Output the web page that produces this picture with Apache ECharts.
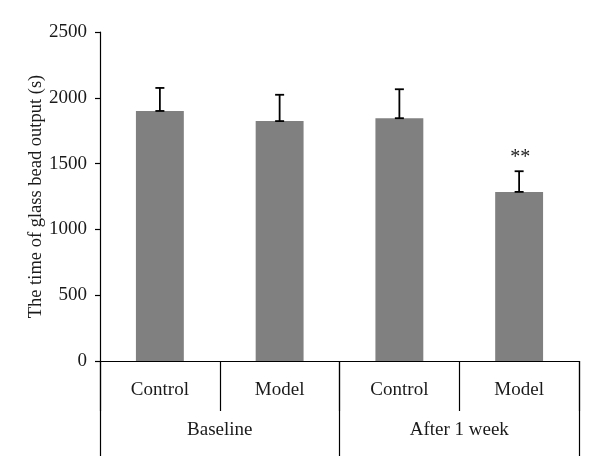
<!DOCTYPE html>
<html>
<head>
<meta charset="utf-8">
<script src="https://cdn.jsdelivr.net/npm/echarts@6/dist/echarts.min.js"></script>
<style>html,body{margin:0;padding:0;background:#fff;}#chart{width:600px;height:461px;}</style>
</head>
<body>
<div id="chart"></div>
<script>
var subCategories = ['Control', 'Model', 'Control', 'Model'];
var groups = ['Baseline', 'After 1 week'];
var means = [1900, 1823, 1845, 1285];
var errors = [175, 200, 220, 157];
var marks = ['', '', '', '**'];
var yTicks = {min: 0, max: 2500, interval: 500};
var yTitle = 'The time of glass bead output (s)';

var FONT = '"Liberation Serif", "DejaVu Serif", serif';
var errData = means.map(function (m, i) { return [i, m, m + errors[i], marks[i]]; });

var chart = echarts.init(document.getElementById('chart'));
chart.setOption({
  animation: false,
  grid: {left: 100, right: 21, top: 32, bottom: 100, containLabel: false},
  xAxis: [{
    type: 'category',
    data: subCategories,
    boundaryGap: true,
    axisLine: {lineStyle: {color: '#000', width: 1.2}},
    axisTick: {show: true, interval: 0, length: 50, lineStyle: {color: '#000', width: 1.2}},
    axisLabel: {interval: 0, margin: 20, fontFamily: FONT, fontSize: 19, color: '#1a1a1a'}
  }, {
    type: 'category',
    data: groups,
    position: 'bottom',
    boundaryGap: true,
    axisLine: {show: false},
    axisTick: {show: true, interval: 0, length: 95, lineStyle: {color: '#000', width: 1.2}},
    axisLabel: {interval: 0, margin: 60, fontFamily: FONT, fontSize: 19, color: '#1a1a1a'}
  }],
  yAxis: {
    type: 'value',
    min: yTicks.min, max: yTicks.max, interval: yTicks.interval,
    name: yTitle,
    nameLocation: 'middle',
    nameGap: 54,
    nameMoveOverlap: false,
    nameRotate: 90,
    nameTextStyle: {fontFamily: FONT, fontSize: 18.5, color: '#1a1a1a'},
    splitLine: {show: false},
    axisLine: {show: true, lineStyle: {color: '#000', width: 1.2}},
    axisTick: {show: true, length: 5, lineStyle: {color: '#000', width: 1.2}},
    axisLabel: {margin: 13, fontFamily: FONT, fontSize: 19, color: '#1a1a1a',
      formatter: function (v) { return String(v); }}
  },
  series: [{
    type: 'bar',
    xAxisIndex: 0,
    data: means,
    barWidth: '40%',
    itemStyle: {color: '#808080'}
  }, {
    type: 'custom',
    xAxisIndex: 0,
    data: errData,
    z: 10,
    renderItem: function (params, api) {
      var x = api.coord([api.value(0), 0])[0];
      var lo = api.coord([api.value(0), api.value(1)])[1];
      var hi = api.coord([api.value(0), api.value(2)])[1];
      var hw = 4.5;
      var st = {stroke: '#000', lineWidth: 1.8};
      var children = [
        {type: 'line', shape: {x1: x, y1: lo, x2: x, y2: hi}, style: st},
        {type: 'line', shape: {x1: x - hw, y1: hi, x2: x + hw, y2: hi}, style: st},
        {type: 'line', shape: {x1: x - hw, y1: lo, x2: x + hw, y2: lo}, style: st}
      ];
      var m = errData[params.dataIndex][3];
      if (m) {
        children.push({type: 'text', style: {text: m, x: x + 1, y: hi - 3, textAlign: 'center', textVerticalAlign: 'bottom', font: '20px ' + FONT, fill: '#1a1a1a'}});
      }
      return {type: 'group', children: children};
    }
  }]
});
</script>
</body>
</html>
